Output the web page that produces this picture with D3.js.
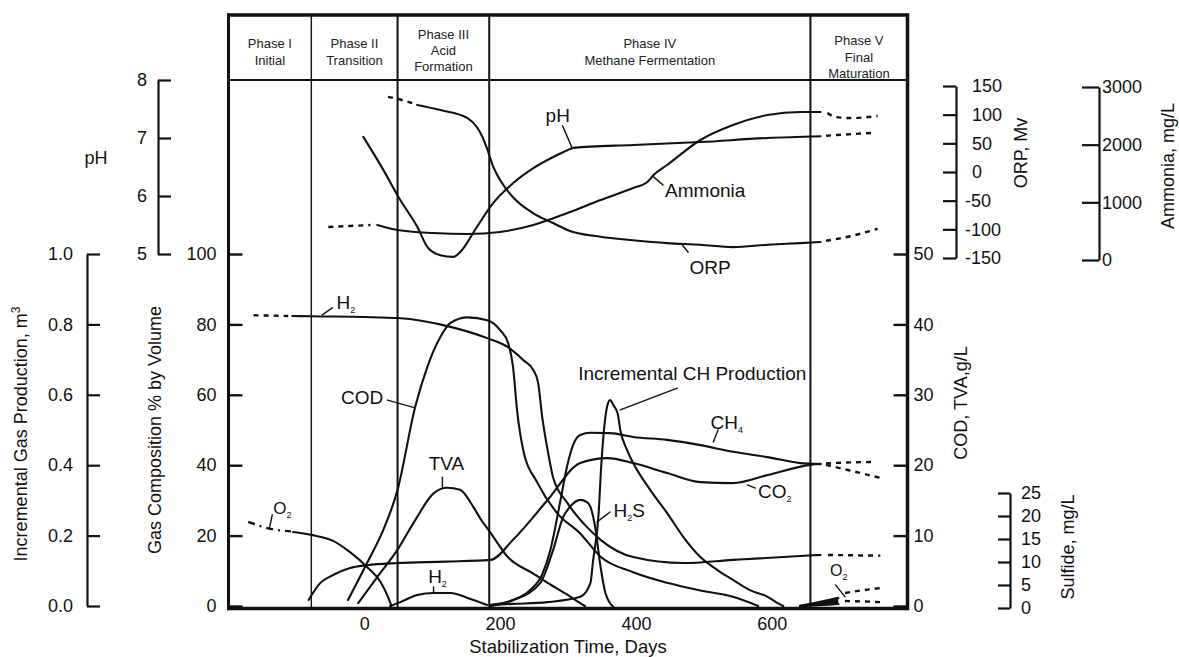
<!DOCTYPE html>
<html><head><meta charset="utf-8">
<script src="https://cdn.jsdelivr.net/npm/d3@7/dist/d3.min.js"></script>
<style>
body{margin:0;background:#fff;}
svg{display:block;font-family:"Liberation Sans",Arial,Helvetica,sans-serif;}
</style></head><body>
<svg id="chart" width="1179" height="657"></svg>
<script>
// ---------------- data ----------------
const phaseBounds = [-78, 49, 184, 657];
const phaseLabels = [["Phase I","Initial"],["Phase II","Transition"],["Phase III","Acid","Formation"],["Phase IV","Methane Fermentation"],["Phase V","Final","Maturation"]];
const dayTicks = [0, 200, 400, 600];
const gasTicks = [0, 20, 40, 60, 80, 100];
const incTicks = [0, 0.2, 0.4, 0.6, 0.8, 1.0];
const phTicks = [5, 6, 7, 8];
const codTicks = [0, 10, 20, 30, 40, 50];
const orpTicks = [-150, -100, -50, 0, 50, 100, 150];
const nh3Ticks = [0, 1000, 2000, 3000];
const sulfTicks = [0, 5, 10, 15, 20, 25];

// gas composition, % by volume
const h2TopDash = [[-163,82.6],[-112,82.4]];
const h2Top = [[-106,82.4],[-78,82.3],[0,82.1],[49,81.8],[127,79.3],[181,76.1],[211,73.6],[234,69.9],[249,67],[256,63.4],[262,53.7],[270,44.3],[278,36.6],[299,29.3],[328,22.4],[348,18.8],[396,13.9],[470,12.2],[543,13.1],[661,14.4],[672,14.5]];
const h2TopEnd = [[683,14.5],[720,14.4],[760,14.3]];
const o2Dash = [[-171,23.9],[-138,21.9],[-108,21.2]];
const o2Pct = [[-105,21],[-78,20.2],[-46,18.5],[-21,15.3],[4,11.1],[24,6.8],[35,2.5],[40,0]];
const co2Pct = [[-82,1.7],[-65,6.5],[-46,8.8],[-21,10.8],[4,11.6],[49,12.2],[120,12.6],[186,13.1],[219,18.8],[270,30.1],[318,40.6],[358,42],[396,40.6],[446,37.8],[495,35.2],[543,34.9],[594,37.2],[657,40.1],[672,40.4]];
const co2Dash = [[680,40.5],[715,40.8],[753,40.9]];
const ch4Pct = [[186,0.3],[219,1.7],[244,4.5],[262,9],[274,15.9],[289,30.1],[299,40],[308,46],[318,48.6],[333,49.2],[362,49.1],[396,48],[446,47.2],[495,45.7],[543,43.8],[594,42.3],[642,40.6],[672,40.3]];
const ch4Dash = [[680,40.1],[715,38.5],[760,36.4]];
const h2Low = [[38,0],[53,1.1],[78,3.1],[102,3.7],[127,3.7],[152,2.3],[181,0.3]];
const o2EndPct = [[642,0],[670,1.1],[698,2.3]];
const o2EndDash = [[708,3.7],[735,4.5],[760,5.1]];
const n2EndPct = [[642,0],[670,0.3],[698,0.6]];
const n2EndDash = [[708,1.4],[735,1.3],[760,1.1]];
// COD, TVA g/L
const codGL = [[-24,0.85],[4,6.1],[28,10.8],[49,16.5],[75,28.3],[93,34],[112,38.2],[127,40.2],[152,41],[181,40.6],[200,39.2],[212,37.3],[219,34],[225,27.8],[234,22.2],[255,17.5],[284,13.2],[318,10.3],[348,7.0],[396,4.8],[446,3.3],[495,2.2],[543,1.3],[580,0]];
const tvaGL = [[-9,0.4],[19,4.1],[49,8],[75,12.2],[102,16],[122,16.8],[141,16.5],[161,14],[171,12.4],[186,10.4],[211,7],[249,4.6],[270,3.3],[299,1.6],[318,0.4],[325,0]];
// sulfide mg/L
const h2sMgL = [[186,0.4],[219,1.7],[259,5.4],[278,12.6],[293,19.8],[303,22],[318,23.5],[328,23],[333,22],[340,17.6],[348,8.9],[355,3.3],[367,0.2]];
// incremental gas production m3
const incM3 = [[186,0.003],[219,0.006],[270,0.011],[318,0.026],[333,0.065],[337,0.13],[345,0.26],[349,0.4],[353,0.5],[358,0.57],[362,0.585],[367,0.57],[373,0.548],[377,0.5],[387,0.443],[396,0.406],[421,0.33],[446,0.264],[470,0.196],[495,0.139],[520,0.102],[543,0.074],[568,0.045],[594,0.026],[608,0.009],[617,0]];
// ORP mV
const orpDash = [[35,131],[60,124],[78,117]];
const orpMv = [[78,117],[112,108],[152,94],[166,78],[174,61],[181,40],[190,9],[200,-14],[219,-44],[249,-72],[278,-89],[299,-101],[348,-113],[396,-119],[446,-124],[495,-127],[543,-131],[594,-127],[642,-124],[672,-122]];
const orpDashEnd = [[680,-120],[716,-112],[756,-99]];
// pH
const phVals = [[-1.5,7.02],[28,6.45],[53,5.93],[78,5.47],[93,5.12],[112,4.98],[131,4.95],[141,5.03],[166,5.47],[190,5.88],[219,6.22],[249,6.48],[278,6.67],[299,6.79],[308,6.83],[396,6.88],[495,6.93],[594,7.0],[672,7.03]];
const phDash = [[680,7.04],[750,7.09]];
// Ammonia mg/L
const nh3Dash = [[-53,572],[-21,590],[9,607]];
const nh3MgL = [[19,607],[49,520],[102,468],[152,451],[200,486],[249,607],[299,815],[348,1040],[396,1249],[417,1353],[426,1474],[446,1647],[495,2081],[543,2341],[594,2514],[642,2566],[672,2566]];
const nh3DashEnd = [[682,2549],[694,2480],[716,2462],[756,2497]];

// ---------------- layout ----------------
const svg = d3.select("#chart");
const FONT = 18;
const frameTop = 15, frameBottom = 608.5;
const x = d3.scaleLinear().domain([-200, 800]).range([228.5, 907.5]);
const yGas = d3.scaleLinear().domain([0, 100]).range([606, 254]);
const yInc = d3.scaleLinear().domain([0, 1]).range([606, 254]);
const yCOD = d3.scaleLinear().domain([0, 50]).range([606, 254]);
const yPH = d3.scaleLinear().domain([5, 8]).range([254, 80]);
const yORP = d3.scaleLinear().domain([-150, 150]).range([258, 86]);
const yNH3 = d3.scaleLinear().domain([0, 3000]).range([260, 87]);
const ySulf = d3.scaleLinear().domain([0, 25]).range([608, 493]);
const frameLeft = x(-200), frameRight = x(800), headerY = yPH(8);

// ---------- frame ----------
const frame = svg.append("g").attr("stroke", "#111").attr("fill", "none");
frame.append("line").attr("x1", frameLeft).attr("x2", frameRight).attr("y1", frameTop).attr("y2", frameTop).attr("stroke-width", 3.5);
frame.append("line").attr("x1", frameLeft).attr("x2", frameRight).attr("y1", headerY).attr("y2", headerY).attr("stroke-width", 2);
frame.append("line").attr("x1", frameLeft).attr("x2", frameLeft).attr("y1", frameTop - 1.7).attr("y2", frameBottom + 1.7).attr("stroke-width", 3);
frame.append("line").attr("x1", frameRight).attr("x2", frameRight).attr("y1", frameTop - 1.7).attr("y2", frameBottom + 1.7).attr("stroke-width", 3.5);
frame.append("line").attr("x1", frameLeft).attr("x2", frameRight).attr("y1", frameBottom).attr("y2", frameBottom).attr("stroke-width", 3.5);
phaseBounds.forEach((d, i) => {
  frame.append("line").attr("x1", x(d)).attr("x2", x(d)).attr("y1", frameTop).attr("y2", frameBottom)
    .attr("stroke-width", i === 0 ? 1.4 : 2);
});

// ---------- phase header ----------
const cols = [-200, ...phaseBounds, 800];
const lineCenters = {2: [43.5, 60], 3: [34, 50, 66]};
phaseLabels.forEach((lines, i) => {
  const cx = (x(cols[i]) + x(cols[i + 1])) / 2;
  let ys = lineCenters[lines.length];
  if (i === 4) ys = [40, 57, 73];
  lines.forEach((t, j) => {
    svg.append("text").attr("x", cx).attr("y", ys[j] + 4.5).attr("text-anchor", "middle")
      .attr("font-size", 13).attr("fill", "#222").text(t);
  });
});

// ---------- axes ----------
function styleAxis(g, w) {
  g.selectAll("path.domain").attr("stroke", "#111").attr("stroke-width", w);
  g.selectAll(".tick line").attr("stroke", "#111").attr("stroke-width", w);
  g.selectAll(".tick text").attr("fill", "#111").attr("font-size", FONT)
    .attr("font-family", '"Liberation Sans",Arial,Helvetica,sans-serif');
}
const gx = svg.append("g").attr("transform", `translate(0,${frameBottom})`)
  .call(d3.axisBottom(x).tickValues(dayTicks).tickSize(0).tickPadding(9).tickFormat(d3.format("d")));
gx.select("path.domain").remove();
styleAxis(gx, 2);
const gGas = svg.append("g").attr("transform", `translate(${frameLeft},0)`)
  .call(d3.axisLeft(yGas).tickValues(gasTicks).tickSize(-14).tickPadding(12).tickFormat(d3.format("d")));
gGas.select("path.domain").remove();
styleAxis(gGas, 2.4);
const gCod = svg.append("g").attr("transform", `translate(${frameRight},0)`)
  .call(d3.axisRight(yCOD).tickValues(codTicks).tickSize(-14).tickPadding(6).tickFormat(d3.format("d")));
gCod.select("path.domain").remove();
styleAxis(gCod, 2.4);
const gInc = svg.append("g").attr("transform", "translate(87,0)")
  .call(d3.axisLeft(yInc).tickValues(incTicks).tickSize(-13).tickSizeOuter(0).tickPadding(14).tickFormat(d3.format(".1f")));
styleAxis(gInc, 2.2);
const gPh = svg.append("g").attr("transform", "translate(158,0)")
  .call(d3.axisLeft(yPH).tickValues(phTicks).tickSize(-13).tickSizeOuter(0).tickPadding(11).tickFormat(d3.format("d")));
styleAxis(gPh, 2.2);
const gOrp = svg.append("g").attr("transform", "translate(956,0)")
  .call(d3.axisRight(yORP).tickValues(orpTicks).tickSize(-13).tickSizeOuter(0).tickPadding(16).tickFormat(d3.format("d")));
styleAxis(gOrp, 2.2);
gOrp.selectAll(".tick text").attr("x", d => d < 0 ? 9 : 16).text(d => d < 0 ? "-" + Math.abs(d) : d);
const gNh3 = svg.append("g").attr("transform", "translate(1099,0)")
  .call(d3.axisRight(yNH3).tickValues(nh3Ticks).tickSize(-17).tickSizeOuter(0).tickPadding(3).tickFormat(d3.format("d")));
styleAxis(gNh3, 2.2);
const gSul = svg.append("g").attr("transform", "translate(1010,0)")
  .call(d3.axisRight(ySulf).tickValues(sulfTicks).tickSize(-12).tickSizeOuter(0).tickPadding(11).tickFormat(d3.format("d")));
styleAxis(gSul, 2.2);

// ---------- axis titles ----------
function rotTitle(tx, ty, parts) {
  const t = svg.append("text").attr("transform", `translate(${tx},${ty}) rotate(-90)`)
    .attr("text-anchor", "middle").attr("font-size", FONT).attr("fill", "#111");
  parts.forEach(p => {
    const s = t.append("tspan").text(p[0]);
    if (p[1] === "sup") s.attr("font-size", 12).attr("dy", -7);
  });
}
rotTitle(27, 434, [["Incremental Gas Production, m"], ["3", "sup"]]);
rotTitle(161, 430, [["Gas Composition % by Volume"]]);
rotTitle(967, 403, [["COD, TVA,g/L"]]);
rotTitle(1027, 153, [["ORP, Mv"]]);
rotTitle(1174, 166, [["Ammonia, mg/L"]]);
rotTitle(1074, 547, [["Sulfide, mg/L"]]);
svg.append("text").attr("x", 96).attr("y", 164).attr("text-anchor", "middle").attr("font-size", FONT).attr("fill", "#111").text("pH");
svg.append("text").attr("x", (frameLeft + frameRight) / 2).attr("y", 653).attr("text-anchor", "middle")
  .attr("font-size", FONT + 0.5).attr("fill", "#111").text("Stabilization Time, Days");

// ---------- curves ----------
const curves = svg.append("g").attr("fill", "none").attr("stroke", "#111").attr("stroke-linecap", "round");
function draw(data, ys, opts = {}) {
  const ln = d3.line().x(d => x(d[0])).y(d => ys(d[1])).curve(d3.curveMonotoneX);
  const p = curves.append("path").attr("d", ln(data)).attr("stroke-width", opts.w || 2.1);
  if (opts.dash) p.attr("stroke-dasharray", opts.dash).attr("stroke-linecap", "butt");
  return p;
}
const DASH = "5,5";
draw(h2TopDash, yGas, {dash: DASH, w: 2.4});
draw(h2Top, yGas);
draw(h2TopEnd, yGas, {dash: DASH, w: 2.4});
draw(o2Dash, yGas, {dash: "7,5,2,5", w: 2.4});
draw(o2Pct, yGas);
draw(co2Pct, yGas);
draw(co2Dash, yGas, {dash: DASH, w: 2.4});
draw(ch4Pct, yGas);
draw(ch4Dash, yGas, {dash: DASH, w: 2.4});
draw(h2Low, yGas);
draw(codGL, yCOD);
draw(tvaGL, yCOD);
draw(h2sMgL, ySulf);
draw(incM3, yInc);
draw(orpDash, yORP, {dash: DASH, w: 2.4});
draw(orpMv, yORP);
draw(orpDashEnd, yORP, {dash: DASH, w: 2.4});
draw(phVals, yPH);
draw(phDash, yPH, {dash: DASH, w: 2.4});
draw(nh3Dash, yNH3, {dash: DASH, w: 2.4});
draw(nh3MgL, yNH3);
draw(nh3DashEnd, yNH3, {dash: DASH, w: 2.4});
const wedge = o2EndPct.map((d, i) => [d[0], n2EndPct[i][1], d[1]]);
curves.append("path").attr("fill", "#111").attr("stroke", "none")
  .attr("d", d3.area().x(d => x(d[0])).y0(d => yGas(d[1])).y1(d => yGas(d[2])).curve(d3.curveMonotoneX)(wedge));
draw(o2EndPct, yGas, {w: 2.4});
draw(n2EndPct, yGas, {w: 2.4});
draw(o2EndDash, yGas, {dash: DASH, w: 2.4});
draw(n2EndDash, yGas, {dash: DASH, w: 2.4});

// ---------- labels (positions in data units) ----------
function label(day, val, ys, parts, anchor = "start", size = FONT + 1) {
  const t = svg.append("text").attr("x", x(day)).attr("y", ys(val)).attr("text-anchor", anchor)
    .attr("font-size", size).attr("fill", "#111");
  parts.forEach(p => {
    const s = t.append("tspan").text(p[0]);
    if (p[1] === "sub") { s.attr("font-size", 9).attr("dy", 4); }
    if (p[1] === "back") { s.attr("dy", -4); }
  });
}
function leader(d1, v1, d2, v2, ys) {
  curves.append("line").attr("x1", x(d1)).attr("y1", ys(v1)).attr("x2", x(d2)).attr("y2", ys(v2)).attr("stroke-width", 1.4);
}
label(-41, 84.4, yGas, [["H"], ["2", "sub"]]);
leader(-62, 82.7, -47, 84.7, yGas);
label(-134, 26.1, yGas, [["O"], ["2", "sub"]], "start", 17);
leader(-140, 21.9, -135.5, 25.9, yGas);
label(28, 57.4, yGas, [["COD"]], "end");
leader(34, 58.5, 75, 56.3, yGas);
label(121, 38.6, yGas, [["TVA"]], "middle");
leader(115, 36.6, 115, 33.5, yGas);
label(94, 6.5, yGas, [["H"], ["2", "sub"]]);
leader(102, 5.4, 102, 3.7, yGas);
label(315, 64.2, yGas, [["Incremental CH Production"]]);
leader(377, 55.7, 461, 61.9, yGas);
label(510, 50.3, yGas, [["CH"], ["4", "sub"]]);
leader(514, 46.6, 521, 50, yGas);
label(580, 30.7, yGas, [["CO"], ["2", "sub"]]);
leader(564, 34.4, 576, 33.5, yGas);
label(367, 25.3, yGas, [["H"], ["2", "sub"], ["S", "back"]]);
leader(343, 23.9, 362, 26.7, yGas);
label(686, 8.5, yGas, [["O"], ["2", "sub"]], "start", 16);
leader(694, 6, 708, 2.6, yGas);
label(267, 7.28, yPH, [["pH"]]);
leader(292, 7.21, 306, 6.83, yPH);
label(443, 5.98, yPH, [["Ammonia"]]);
leader(426, 6.33, 440, 6.19, yPH);
label(479, 4.66, yPH, [["ORP"]]);
leader(468, 5.16, 477, 5.03, yPH);
</script>
</body></html>
